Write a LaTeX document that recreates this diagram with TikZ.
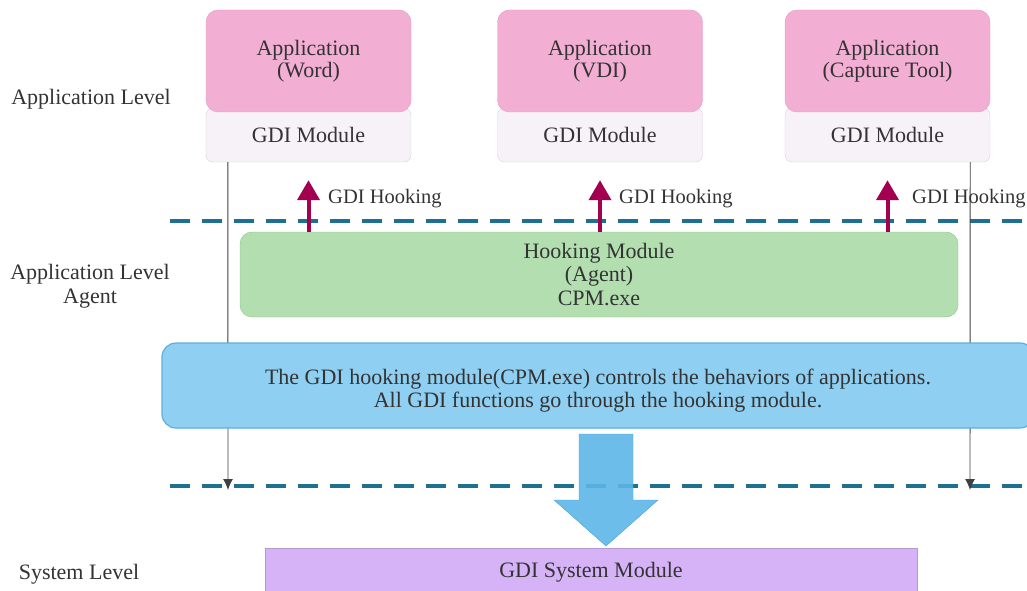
\documentclass[tikz,border=0pt]{standalone}
\usepackage{fontspec}
\setmainfont{Liberation Serif}
\usetikzlibrary{arrows.meta}

\definecolor{apppink}{HTML}{F2AFD3}
\definecolor{appline}{HTML}{E29CC2}
\definecolor{gdifill}{HTML}{F7F2F7}
\definecolor{gdiline}{HTML}{DAD2DA}
\definecolor{agentgreen}{HTML}{B3DEB0}
\definecolor{agentline}{HTML}{8FC48A}
\definecolor{noteblue}{HTML}{8FCFF1}
\definecolor{noteline}{HTML}{5FAEDD}
\definecolor{flowblue}{HTML}{5DB6E8}
\definecolor{flowline}{HTML}{4B9FD6}
\definecolor{syspurple}{HTML}{D6B3F7}
\definecolor{hookred}{HTML}{A3004F}
\definecolor{levelblue}{HTML}{1F6E94}
\definecolor{txt}{HTML}{333333}

\begin{document}
\begin{tikzpicture}[x=1pt, y=-1pt,
  every node/.style={text=txt, font=\fontsize{22}{23.5}\selectfont, align=center},
  app/.style={draw=appline, fill=apppink, rounded corners=12pt, minimum width=205pt, minimum height=102pt},
  gdi/.style={draw=gdiline, fill=gdifill, rounded corners=7pt, minimum width=205pt, minimum height=54pt},
  hook/.style={-{Triangle[width=22pt,length=20pt]}, hookred, line width=4pt, shorten >=18pt},
  hooklabel/.style={anchor=west, inner sep=0pt, font=\fontsize{20.5}{23}\selectfont},
  level/.style={levelblue, line width=4.5pt, dash pattern=on 20pt off 12pt},
  thin/.style={-{Latex[length=11pt,width=10pt]}, black!75, line width=0.9pt}]

\useasboundingbox (0,0) rectangle (1027,591);

% level separators
\draw [level] (170,221) -- (1027,221);
\draw [level] (170,486) -- (1027,486);

% applications
\node [gdi] (wordgdi) at (308.5,135) {\raisebox{-3pt}{GDI Module}};
\node [gdi] (vdigdi) at (600,135) {\raisebox{-3pt}{GDI Module}};
\node [gdi] (capgdi) at (887.5,135) {\raisebox{-3pt}{GDI Module}};
\node [app] (word) at (308.5,61) {\raisebox{-2pt}{Application}\\(Word)};
\node [app] (vdi) at (600,61) {\raisebox{-2pt}{Application}\\(VDI)};
\node [app] (cap) at (887.5,61) {\raisebox{-2pt}{Application}\\(Capture Tool)};

% agent
\node [draw=agentline, fill=agentgreen, rounded corners=12pt, minimum width=718pt, minimum height=85pt] (agent) at (599,274.5) {Hooking Module\\(Agent)\\CPM.exe};

\coordinate (wordend) at (228,490);
\coordinate (capend) at (970,490);
\draw [thin] ([xshift=22pt]wordgdi.south west) -- (wordend);
\draw [thin] ([xshift=-20pt]capgdi.south east) -- (capend);

\draw [hook] (agent.north -| wordgdi.south) -- (wordgdi.south);
\draw [hook] (agent.north -| vdigdi.south) -- (vdigdi.south);
\draw [hook] (agent.north -| capgdi.south) -- (capgdi.south);
\node [hooklabel] (hookw) at (328,199) {GDI Hooking};
\node [hooklabel] (hookv) at (619,199) {GDI Hooking};
\node [hooklabel] (hookc) at (912,199) {GDI Hooking};

\node [draw=noteline, line width=1.2pt, fill=noteblue, rounded corners=14pt, minimum width=872pt, minimum height=85pt] (note) at (598,385.5) {};
\node (notetext) at ([yshift=-5pt]note.center) {The GDI hooking module(CPM.exe) controls the behaviors of applications.\\All GDI functions go through the hooking module.};

% system
\node [fill=syspurple, draw=syspurple!85!black, minimum width=652pt, minimum height=48pt] (sys) at (591,572) {\raisebox{-3pt}{GDI System Module}};

\draw [draw=flowline, fill=flowblue, fill opacity=0.9] (579,434) -- (633,434) -- (633,500) -- (658,500) -- (606,546) -- (554,500) -- (579,500) -- cycle;

% level names
\node (applevel) at (91,99) {Application Level};
\node (agentlevel) at (90,286) {Application Level\\Agent};
\node (syslevel) at (79,574) {System Level};

\end{tikzpicture}
\end{document}
